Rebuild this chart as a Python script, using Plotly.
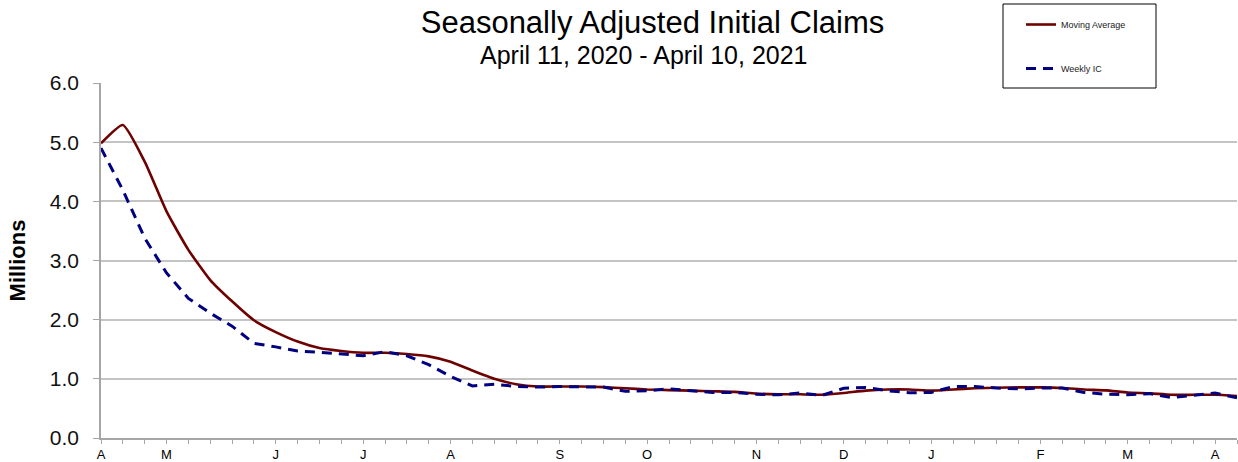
import datetime as dt
import plotly.graph_objects as go

# ---- data (millions) ----
start = dt.date(2020, 4, 11)
weeks = [start + dt.timedelta(days=7 * i) for i in range(53)]

weekly_ic = [4.90, 4.19, 3.38, 2.79, 2.36, 2.11, 1.89, 1.60, 1.54, 1.47,
             1.45, 1.42, 1.39, 1.46, 1.39, 1.24, 1.04, 0.88, 0.91, 0.87,
             0.86, 0.87, 0.86, 0.86, 0.79, 0.80, 0.83, 0.80, 0.77, 0.77,
             0.74, 0.73, 0.76, 0.72, 0.84, 0.855, 0.80, 0.765, 0.77, 0.87,
             0.87, 0.845, 0.83, 0.845, 0.845, 0.77, 0.74, 0.73, 0.75, 0.685,
             0.72, 0.76, 0.68]

moving_avg = [4.98, 5.29, 4.67, 3.83, 3.18, 2.67, 2.31, 1.99, 1.79, 1.63,
              1.52, 1.47, 1.44, 1.44, 1.42, 1.38, 1.29, 1.14, 1.00, 0.91,
              0.87, 0.87, 0.87, 0.86, 0.84, 0.82, 0.81, 0.80, 0.79, 0.78,
              0.75, 0.74, 0.74, 0.73, 0.76, 0.80, 0.82, 0.82, 0.80, 0.82,
              0.84, 0.85, 0.855, 0.855, 0.845, 0.82, 0.805, 0.77, 0.755, 0.73,
              0.73, 0.73, 0.71]

month_tick_idx = [0, 3, 8, 12, 16, 21, 25, 30, 34, 38, 43, 47, 51]
month_labels = ["A", "M", "J", "J", "A", "S", "O", "N", "D", "J", "F", "M", "A"]

y_ticks = [0, 1, 2, 3, 4, 5, 6]

FONT = "Liberation Sans, Arial, sans-serif"
AXIS_GRAY = "#a6a6a6"

fig = go.Figure()
fig.add_trace(go.Scatter(
    x=weeks, y=moving_avg, mode="lines", name="Moving Average",
    legendgroup="ma",
    line=dict(color="#6e0000", width=2.6, shape="spline", smoothing=0.5),
))
fig.add_trace(go.Scatter(
    x=weeks, y=weekly_ic, mode="lines", name="Weekly IC",
    legendgroup="ic",
    line=dict(color="#000080", width=3, dash="10px,7px"),
))

fig.update_layout(
    width=1238, height=462,
    margin=dict(l=101, r=1, t=83, b=24, autoexpand=False),
    paper_bgcolor="white", plot_bgcolor="white",
    font=dict(family=FONT, color="#111111"),
    title=dict(text="Seasonally Adjusted Initial Claims",
               x=652.5 / 1238, xanchor="center", xref="container",
               y=1 - 22 / 462, yanchor="middle", yref="container",
               font=dict(size=31, color="#000000", family=FONT)),
    showlegend=True,
    legend=dict(x=(1021 - 101) / 1136, xanchor="left",
                y=1 + (83 - 10) / 355, yanchor="top",
                bgcolor="rgba(0,0,0,0)", borderwidth=0,
                font=dict(size=9, color="#222222", family=FONT),
                traceorder="grouped", tracegroupgap=25),
    annotations=[dict(text="April 11, 2020 - April 10, 2021",
                      xref="paper", yref="paper",
                      x=(644 - 101) / 1136, y=(438 - 55) / 355,
                      xanchor="center", yanchor="middle", showarrow=False,
                      font=dict(size=25, color="#000000", family=FONT))],
    shapes=[dict(type="rect", xref="paper", yref="paper",
                 x0=(1003 - 101) / 1136, x1=(1156 - 101) / 1136,
                 y0=(438 - 88) / 355, y1=(438 - 4) / 355,
                 line=dict(color="#000000", width=1), fillcolor="rgba(0,0,0,0)")],
)

fig.update_xaxes(
    range=[weeks[0], weeks[-1]], automargin=False,
    tickvals=[weeks[i] for i in month_tick_idx], ticktext=month_labels,
    ticks="outside", ticklen=4, tickcolor=AXIS_GRAY,
    minor=dict(ticks="outside", ticklen=4, tickcolor=AXIS_GRAY,
               dtick=7 * 24 * 3600 * 1000, tick0=str(weeks[0]), showgrid=False),
    showline=True, linecolor=AXIS_GRAY, linewidth=1.5,
    showgrid=False, zeroline=False,
    tickfont=dict(size=13, color="#000000", family=FONT),
)
fig.update_yaxes(
    range=[0, 6], tickvals=y_ticks, tickformat=".1f", automargin=False,
    ticks="outside", ticklen=6, tickcolor=AXIS_GRAY,
    ticklabelstandoff=10,
    showline=True, linecolor=AXIS_GRAY, linewidth=1.5,
    showgrid=True, gridcolor="#c4c4c4", gridwidth=1.5, zeroline=False,
    tickfont=dict(size=21, color="#111111", family=FONT),
    title=dict(text="<b>Millions</b>", standoff=18,
               font=dict(size=22, color="#000000", family=FONT)),
)

fig.write_html("out.html", config={"displayModeBar": False},
               post_script="document.body.style.margin='0px';")
